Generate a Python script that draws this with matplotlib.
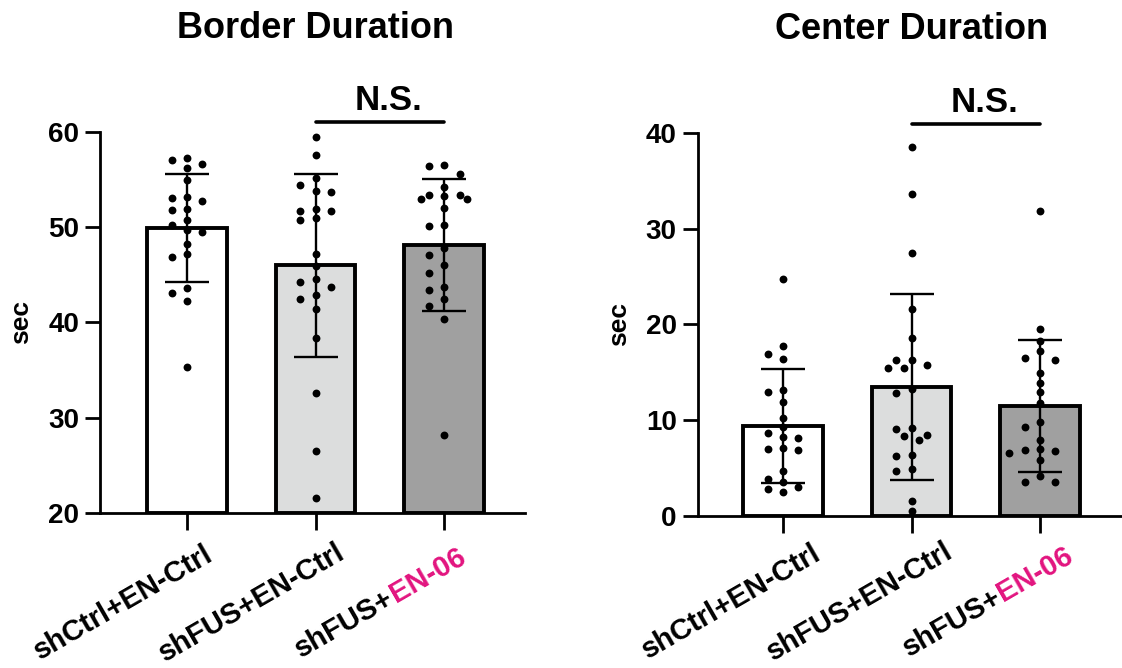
import numpy as np
import matplotlib
matplotlib.use("Agg")
import matplotlib.pyplot as plt
from matplotlib.transforms import blended_transform_factory, offset_copy

plt.rcParams['font.family'] = ['Liberation Sans', 'DejaVu Sans']
plt.rcParams['font.weight'] = 'bold'

# groups: black part of the label, highlighted (magenta) part
label_main = ["shCtrl+EN-Ctrl", "shFUS+EN-Ctrl", "shFUS+"]
label_hl = ["", "", "EN-06"]
bar_colors = ["white", "#dcdddd", "#a0a0a0"]
hl_color = "#e2147f"

# Border duration (sec)
border_ctrl = [57.2, 57.0, 56.65, 56.2, 54.9, 53.1, 53.0, 52.7, 51.9, 51.8, 50.7,
               50.2, 49.7, 49.5, 48.2, 47.2, 46.9, 43.6, 43.1, 42.2, 35.3]
border_fus = [59.4, 57.5, 55.1, 54.4, 53.75, 53.7, 51.65, 51.7, 51.9, 50.7, 50.9,
              47.2, 45.9, 44.2, 44.5, 43.7, 42.9, 42.4, 41.4, 38.4, 32.6, 26.5, 21.6]
border_en06 = [56.5, 56.4, 55.6, 54.2, 53.4, 53.4, 52.9, 52.9, 53.2, 52.0, 50.1,
               50.2, 47.8, 47.1, 46.0, 45.2, 43.4, 43.7, 42.4, 41.7, 40.3, 28.2]
border_mean = [49.9, 46.0, 48.1]
border_sd = [5.7, 9.6, 6.9]

# Center duration (sec)
center_ctrl = [24.8, 17.8, 16.9, 16.4, 12.9, 13.1, 11.9, 10.25, 9.3, 8.2, 8.15,
               8.7, 6.95, 6.9, 7.1, 4.7, 3.5, 3.8, 3.0, 2.8, 2.45]
center_fus = [38.6, 33.65, 27.5, 21.6, 18.6, 16.3, 15.8, 15.5, 16.3, 15.5, 13.2,
              12.8, 9.2, 9.1, 8.3, 8.4, 7.9, 6.2, 6.3, 4.65, 4.9, 1.5, 0.5]
center_en06 = [31.9, 19.5, 18.3, 16.5, 17.2, 16.3, 14.9, 13.9, 12.9, 11.8, 9.3,
               9.8, 7.9, 6.75, 6.6, 6.9, 6.95, 5.8, 3.5, 4.15, 3.55]
center_mean = [9.4, 13.45, 11.5]
center_sd = [5.95, 9.7, 6.9]


def swarm_x(ax, x0, values, step=7.7, min_dist=9.0):
    """Spread dots sideways (in pixels) so they do not overlap."""
    vals = np.asarray(values, float)
    pts = ax.transData.transform(np.column_stack([np.full(len(vals), x0), vals]))
    xs = pts[:, 0].copy()
    placed = []
    for i in np.argsort(-vals):
        y = pts[i, 1]
        for k in [0, -2, 2, -1, 1, -3, 3, -4, 4, -5, 5]:
            x = pts[i, 0] + k * step
            if all((x - px) ** 2 + (y - py) ** 2 >= min_dist ** 2 for px, py in placed):
                break
        placed.append((x, y))
        xs[i] = x
    return ax.transData.inverted().transform(np.column_stack([xs, pts[:, 1]]))[:, 0]


fig = plt.figure(figsize=(11.22, 6.68), dpi=100)
renderer = fig.canvas.get_renderer()


def text_width(s, fs):
    t = fig.text(0, 0, s, fontsize=fs, fontweight='bold')
    w = t.get_window_extent(renderer).width
    t.remove()
    return w


def panel(rect, xlim, ylim, yticks, points, means, sds, title, lab_off):
    ax = fig.add_axes(rect)
    ax.set_xlim(*xlim)
    ax.set_ylim(*ylim)
    x = np.arange(3)
    ax.bar(x, np.array(means) - ylim[0], bottom=ylim[0], width=0.62,
           color=bar_colors, edgecolor='black', linewidth=2.8, zorder=1)
    ax.errorbar(x, means, yerr=sds, fmt='none', ecolor='black', elinewidth=1.7,
                capsize=16, capthick=1.7, zorder=3)
    for i, vals in enumerate(points):
        ax.scatter(swarm_x(ax, i, vals), vals, s=32, color='black',
                   linewidths=0, zorder=4, clip_on=False)

    for side in ['top', 'right']:
        ax.spines[side].set_visible(False)
    for side in ['left', 'bottom']:
        ax.spines[side].set_linewidth(2)
    ax.set_yticks(yticks)
    ax.tick_params(axis='y', length=11, width=2, pad=4, labelsize=20)
    ax.set_xticks(x)
    ax.set_xticklabels([])
    ax.tick_params(axis='x', length=12, width=2)
    ax.set_ylabel('sec', fontsize=19, fontweight='bold', labelpad=11)

    bt = blended_transform_factory(ax.transData, ax.transAxes)
    ax.text(1, 1.246, title, transform=bt, ha='center', va='baseline',
            fontsize=26, fontweight='bold')
    ax.plot([1, 2], [1.025, 1.025], transform=bt, color='black', lw=2.6,
            clip_on=False, solid_capstyle='round')
    ax.text(1.57, 1.056, 'N.S.', transform=bt, ha='center', va='baseline',
            fontsize=25, fontweight='bold')

    # rotated category labels, with the highlighted part in magenta
    fs, rot = 21, 30
    u = np.array([np.cos(np.radians(rot)), np.sin(np.radians(rot))])
    for i in range(3):
        parts = [(label_main[i], 'black'), (label_hl[i], hl_color)]
        parts = [p for p in parts if p[0]]
        widths = [text_width(s, fs) for s, _ in parts]
        total = text_width(label_main[i] + label_hl[i], fs)
        start = -total / 2
        for (s, c), w in zip(parts, widths):
            d = (start + w / 2) * u
            tr = offset_copy(bt, fig=fig, x=lab_off[0] + d[0],
                             y=lab_off[1] + d[1], units='dots')
            ax.text(i, 0, s, transform=tr, rotation=rot, rotation_mode='anchor',
                    ha='center', va='center', fontsize=fs, fontweight='bold',
                    color=c, clip_on=False)
            start += w
    return ax


panel([0.0891, 0.232, 0.379, 0.571], (-0.677, 2.63), (20, 60), [20, 30, 40, 50, 60],
      [border_ctrl, border_fus, border_en06], border_mean, border_sd,
      'Border Duration', (-64, -90))
panel([0.6218, 0.228, 0.378, 0.5725], (-0.665, 2.637), (0, 40), [0, 10, 20, 30, 40],
      [center_ctrl, center_fus, center_en06], center_mean, center_sd,
      'Center Duration', (-52, -86))

fig.savefig('out.png', dpi=100)
